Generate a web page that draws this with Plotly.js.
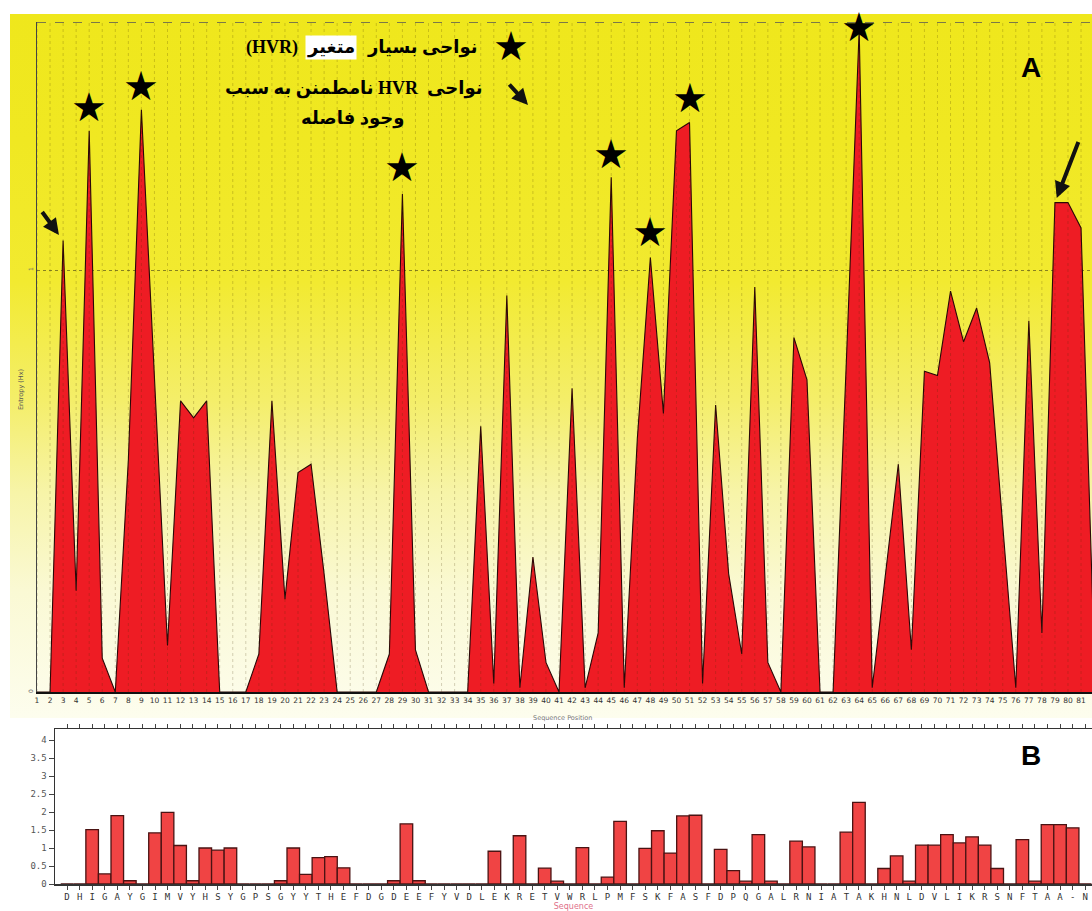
<!DOCTYPE html>
<html><head><meta charset="utf-8">
<script src="https://cdn.plot.ly/plotly-3.0.1.min.js"></script>
<style>
html,body{margin:0;padding:0;background:#fff;}
#wrap{position:relative;width:1092px;height:911px;overflow:hidden;background:#fff;}
#bg{position:absolute;left:10px;top:14px;width:1082px;height:704px;
 background:linear-gradient(to bottom,#efe71c 0%,#f0e822 18%,#f2ea30 38%,#f4ee6a 55%,#f7f4a8 68%,#faf9d4 82%,#fdfdee 100%);}
#chart{position:absolute;left:0;top:0;width:1092px;height:911px;}
</style></head>
<body><div id="wrap"><div id="bg"></div><div id="chart"></div></div>
<script>
// ---------- Panel A : entropy profile ----------
const positionsA = Array.from({length: 82}, (_, k) => k + 1);
const entropyA = [0, 0, 1.07, 0.24, 1.33, 0.08, 0, 0.55, 1.38, 0.75,
  0.11, 0.69, 0.65, 0.69, 0, 0, 0, 0.09, 0.69, 0.22,
  0.52, 0.54, 0.28, 0, 0, 0, 0, 0.09, 1.18, 0.10,
  0, 0, 0, 0, 0.63, 0.02, 0.94, 0.01, 0.32, 0.07,
  0, 0.72, 0.01, 0.14, 1.22, 0.01, 0.60, 1.03, 0.66, 1.33,
  1.35, 0.02, 0.68, 0.28, 0.09, 0.96, 0.07, 0, 0.84, 0.74,
  0, 0, 0.77, 1.57, 0.01, 0.27, 0.54, 0.10, 0.76, 0.75,
  0.95, 0.83, 0.91, 0.78, 0.40, 0.01, 0.88, 0.14, 1.16, 1.16,
  1.10, 0.10];
const tickLabelsA = positionsA.map(String);
const starPositions = [5, 9, 29, 45, 48, 51, 64];
const arrowPositions = [3, 79];

// ---------- Panel B : per-residue bars ----------
const sequenceB = ["D","H","I","G","A","Y","G","I","M","V","Y","H","S","Y","G","P","S","G","Y","Y",
  "T","H","E","F","D","G","D","E","E","F","Y","V","D","L","E","K","R","E","T","V",
  "W","R","L","P","M","F","S","K","F","A","S","F","D","P","Q","G","A","L","R","N",
  "I","A","T","A","K","H","N","L","D","V","L","I","K","R","S","N","F","T","A","A","-","N"];
const positionsB = sequenceB.map((_, k) => k + 1);
const valuesB = [0, 0, 1.51, 0.28, 1.90, 0.09, 0, 1.42, 1.99, 1.07,
  0.09, 1.00, 0.94, 1.00, 0, 0, 0, 0.09, 1.00, 0.27,
  0.73, 0.76, 0.45, 0, 0, 0, 0.09, 1.67, 0.09, 0,
  0, 0, 0, 0, 0.91, 0, 1.34, 0, 0.44, 0.08,
  0, 1.01, 0, 0.19, 1.74, 0, 0.99, 1.48, 0.86, 1.89,
  1.91, 0, 0.96, 0.37, 0.08, 1.37, 0.08, 0, 1.19, 1.03,
  0, 0, 1.44, 2.27, 0, 0.43, 0.78, 0.08, 1.08, 1.08,
  1.37, 1.14, 1.31, 1.08, 0.43, 0, 1.23, 0.08, 1.65, 1.65,
  1.56, 0];
const yTicksB = [0, 0.5, 1, 1.5, 2, 2.5, 3, 3.5, 4];
const yTickTextB = ["0", "0.5", "1", "1.5", "2", "2.5", "3", "3.5", "4"];

// ---------- geometry (pixels of the 1092x911 page) ----------
const W = 1092, H = 911;
const px = v => v / W, py = v => 1 - v / H;
const yTopA = 1.588, yTopB = 4.306;

const traces = [
  {type: 'scatter', mode: 'lines', x: positionsA, y: entropyA, xaxis: 'x', yaxis: 'y',
   fill: 'tozeroy', fillcolor: '#ee1c24', line: {color: '#2a0707', width: 1.1}},
  {type: 'bar', x: positionsB, y: valuesB, xaxis: 'x2', yaxis: 'y2', width: 1,
   marker: {color: '#f04444', line: {color: '#4a1313', width: 1.3}}}
];

const shapes = [];
positionsA.forEach(p => shapes.push({type: 'line', xref: 'x', yref: 'y', x0: p, x1: p, y0: 0, y1: yTopA,
  layer: 'above', line: {color: 'rgba(70,50,0,0.22)', width: 1, dash: 'dot'}}));
shapes.push({type: 'line', xref: 'x domain', yref: 'y', x0: 0, x1: 1, y0: yTopA, y1: yTopA,
  line: {color: '#555', width: 1.3, dash: 'dash'}});

const P = (o) => Object.assign({xref: 'paper', yref: 'paper', showarrow: false, xanchor: 'center', yanchor: 'middle'}, o);
const starShift = [24, 24, 27, 23, 25, 24, 3];
const annotations = [];
starPositions.forEach((p, k) => annotations.push({x: p, y: entropyA[p - 1], xref: 'x', yref: 'y',
  xanchor: 'center', yanchor: 'middle',
  text: '★', showarrow: false, yshift: starShift[k], font: {family: 'DejaVu Sans', size: 40, color: '#000'}}));
// arrows pointing at uncertain peaks
annotations.push({x: arrowPositions[0], y: entropyA[arrowPositions[0] - 1], xref: 'x', yref: 'y', text: '',
  showarrow: true, arrowhead: 2, arrowsize: 0.8, arrowwidth: 4, arrowcolor: '#111', ax: -22, ay: -30, standoff: 7});
annotations.push({x: arrowPositions[1], y: entropyA[arrowPositions[1] - 1], xref: 'x', yref: 'y', text: '',
  showarrow: true, arrowhead: 2, arrowsize: 0.8, arrowwidth: 4, arrowcolor: '#111', ax: 24, ay: -62, standoff: 5});
// legend
annotations.push(P({x: px(511), y: py(46), text: '★', font: {family: 'DejaVu Sans', size: 40, color: '#000'}}));
annotations.push({xref: 'paper', yref: 'paper', x: px(528), y: py(105), text: '', showarrow: true,
  arrowhead: 2, arrowsize: 0.8, arrowwidth: 4, arrowcolor: '#111', ax: -20, ay: -22, standoff: 0});
const faFont = {family: 'Liberation Serif, DejaVu Sans, serif', size: 18, color: '#000'};
annotations.push(P({x: px(300), y: py(47), xanchor: 'right', text: '<b>(HVR)</b>', font: faFont}));
annotations.push(P({x: px(305), y: py(47), xanchor: 'left', text: '<b>متغیر</b>', font: faFont,
  bgcolor: '#ffffff', borderpad: 1}));
annotations.push(P({x: px(479), y: py(47), xanchor: 'right', text: '<b>نواحی بسیار</b>', font: faFont}));
annotations.push(P({x: px(354), y: py(89), text: '<b>\u202Bنواحی  HVR نامطمنن به سبب\u202C</b>', font: faFont}));
annotations.push(P({x: px(352), y: py(119), text: '<b>وجود فاصله</b>', font: faFont}));
// panel letters
annotations.push(P({x: px(1031), y: py(68), text: '<b>A</b>',
  font: {family: 'Liberation Sans, Arial, sans-serif', size: 28, color: '#000'}}));
annotations.push(P({x: px(1031), y: py(755), text: '<b>B</b>',
  font: {family: 'Liberation Sans, Arial, sans-serif', size: 28, color: '#000'}}));
// small axis titles of panel A
annotations.push(P({x: px(21), y: py(390), text: 'Entropy (Hx)', textangle: -90,
  font: {family: 'DejaVu Sans', size: 6.5, color: '#555'}}));
annotations.push(P({x: px(562), y: py(718), text: 'Sequence Position',
  font: {family: 'DejaVu Sans', size: 6.5, color: '#777'}}));

const layout = {
  width: W, height: H, margin: {l: 0, r: 0, t: 0, b: 0, pad: 0},
  paper_bgcolor: 'rgba(0,0,0,0)', plot_bgcolor: 'rgba(0,0,0,0)',
  showlegend: false, hovermode: false, bargap: 0,
  xaxis: {domain: [px(37), 1], range: [1, 81.84], anchor: 'y', automargin: false,
    tickvals: positionsA, ticktext: tickLabelsA, tickangle: 0, ticks: '',
    tickfont: {family: 'DejaVu Sans', size: 7.5, color: '#333'},
    showline: true, linecolor: '#111', linewidth: 2, showgrid: false, zeroline: false},
  yaxis: {domain: [py(692), py(22)], range: [0, yTopA], anchor: 'x', automargin: false,
    tickvals: [0, 1], ticktext: ['0', '1'], tickangle: -90, ticks: '',
    tickfont: {family: 'DejaVu Sans', size: 6, color: '#666'},
    showline: true, linecolor: '#444', linewidth: 1.5,
    showgrid: true, gridcolor: 'rgba(100,95,30,0.75)', griddash: 'dot', gridwidth: 1, zeroline: false},
  xaxis2: {domain: [px(55), 1], range: [0.045, 82.54], anchor: 'y2', automargin: false,
    tickvals: positionsB, ticktext: sequenceB, tickangle: 0, ticks: 'outside', ticklen: 4, tickcolor: '#444',
    tickfont: {family: 'DejaVu Sans Mono', size: 9, color: '#333'},
    showline: true, linecolor: '#333', linewidth: 1.5, mirror: 'ticks', showgrid: false, zeroline: false,
    title: {text: 'Sequence', font: {family: 'DejaVu Sans', size: 8, color: '#e0708a'}, standoff: 1}},
  yaxis2: {domain: [py(884), py(729)], range: [0, yTopB], anchor: 'x2', automargin: false,
    tickvals: yTicksB, ticktext: yTickTextB, ticks: 'outside', ticklen: 5, tickcolor: '#444',
    tickfont: {family: 'DejaVu Sans Mono', size: 9, color: '#555'},
    showline: true, linecolor: '#333', linewidth: 1.5, showgrid: false, zeroline: false},
  shapes: shapes, annotations: annotations
};

Plotly.newPlot('chart', traces, layout, {staticPlot: true, displayModeBar: false});
</script></body></html>
